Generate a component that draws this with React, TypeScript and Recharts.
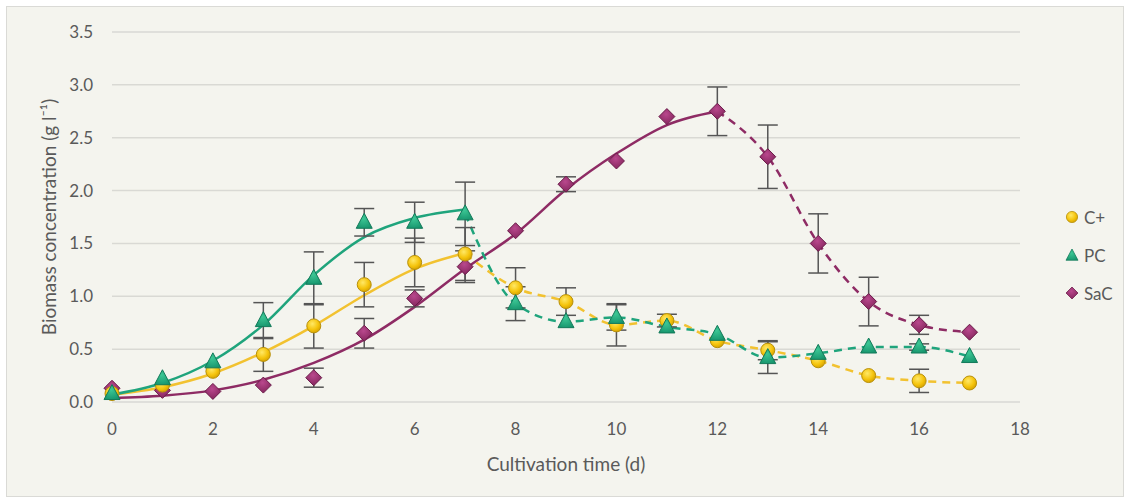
import { ComposedChart, Line, XAxis, YAxis, CartesianGrid, ErrorBar } from 'recharts'

const days = [0, 1, 2, 3, 4, 5, 6, 7, 8, 9, 10, 11, 12, 13, 14, 15, 16, 17]

const cPlus = [0.08, 0.16, 0.29, 0.45, 0.72, 1.11, 1.32, 1.40, 1.08, 0.95, 0.73, 0.77, 0.58, 0.49, 0.39, 0.25, 0.20, 0.18]
const pc = [0.08, 0.22, 0.38, 0.77, 1.17, 1.70, 1.70, 1.78, 0.93, 0.76, 0.80, 0.71, 0.64, 0.42, 0.46, 0.52, 0.52, 0.43]
const sac = [0.13, 0.11, 0.10, 0.16, 0.23, 0.65, 0.98, 1.28, 1.62, 2.06, 2.28, 2.70, 2.75, 2.32, 1.50, 0.95, 0.73, 0.66]

const cPlusErr = [null, null, null, 0.16, 0.21, 0.21, 0.23, 0.25, 0.19, 0.13, 0.2, 0.06, null, 0.09, null, null, 0.11, null]
const pcErr = [null, null, null, 0.17, 0.25, 0.13, 0.19, 0.3, 0.16, null, 0.12, null, null, 0.15, null, null, 0.03, null]
const sacErr = [null, null, null, null, 0.09, 0.14, 0.08, 0.15, null, 0.07, null, null, 0.23, 0.3, 0.28, 0.23, 0.09, null]

// fitted growth curves
const cPlusFit = [0.07, 0.14, 0.27, 0.47, 0.72, 1.01, 1.26, 1.41]
const pcFit = [0.07, 0.18, 0.39, 0.73, 1.20, 1.56, 1.74, 1.82]
const sacFit = [0.04, 0.06, 0.11, 0.21, 0.37, 0.59, 0.90, 1.26, 1.59, 2.01, 2.35, 2.62, 2.75]

// dashed part starts where the fit ends
const cPlusDashFrom = 7
const pcDashFrom = 7
const sacDashFrom = 12

const xTicks = [0, 2, 4, 6, 8, 10, 12, 14, 16, 18]
const yTicks = [0, 0.5, 1, 1.5, 2, 2.5, 3, 3.5]

const GOLD = '#f2c230'
const GREEN = '#1fa47c'
const PURPLE = '#8e2b64'
const TEXT = '#5a5a5a'

const rows = days.map((d, i) => ({
  day: d,
  cp: cPlus[i],
  pc: pc[i],
  sac: sac[i],
  cpErr: cPlusErr[i],
  pcErr: pcErr[i],
  sacErr: sacErr[i],
  cpFit: i < cPlusFit.length ? cPlusFit[i] : null,
  pcFit: i < pcFit.length ? pcFit[i] : null,
  sacFit: i < sacFit.length ? sacFit[i] : null,
  cpDash: d >= cPlusDashFrom ? cPlus[i] : null,
  pcDash: d >= pcDashFrom ? pc[i] : null,
  sacDash: d >= sacDashFrom ? sac[i] : null,
}))

const legendItems = [
  { name: 'C+', kind: 'circle' },
  { name: 'PC', kind: 'triangle' },
  { name: 'SaC', kind: 'diamond' },
]

function Marker({ kind, cx, cy }: { kind: string; cx: number; cy: number }) {
  if (kind === 'circle') {
    return <circle cx={cx} cy={cy} r={7} fill="url(#gGold)" stroke="#b8900a" strokeWidth={1} />
  }
  if (kind === 'triangle') {
    return (
      <polygon
        points={`${cx},${cy - 9} ${cx - 8},${cy + 6} ${cx + 8},${cy + 6}`}
        fill="url(#gGreen)" stroke="#137a5a" strokeWidth={1}
      />
    )
  }
  return (
    <polygon
      points={`${cx},${cy - 8} ${cx + 8},${cy} ${cx},${cy + 8} ${cx - 8},${cy}`}
      fill="url(#gPurple)" stroke="#6a1a48" strokeWidth={1}
    />
  )
}

const dotFor = (kind: string) => (p: any) => {
  if (p.value == null || p.cx == null) return <g key={p.index} />
  return <Marker key={p.index} kind={kind} cx={p.cx} cy={p.cy} />
}

function LegendIcon({ kind }: { kind: string }) {
  const s = kind === 'circle' ? 0.8 : 0.75
  return (
    <svg width={18} height={18} style={{ display: 'block' }}>
      <g transform={`translate(9,9) scale(${s}) translate(-9,-9)`}>
        <Marker kind={kind} cx={9} cy={kind === 'triangle' ? 10 : 9} />
      </g>
    </svg>
  )
}

export default function App() {
  return (
    <div
      style={{
        position: 'absolute', left: 6, top: 6, width: 1116, height: 489,
        background: '#f4f4ee', border: '1px solid #dadad6', fontFamily: 'Lato, sans-serif',
      }}
    >
      <ComposedChart width={1116} height={489} data={rows} margin={{ top: 25, right: 103, bottom: 24, left: 0 }}>
        <defs>
          <radialGradient id="gGold" cx="40%" cy="35%" r="70%">
            <stop offset="0%" stopColor="#ffe866" />
            <stop offset="60%" stopColor="#f5c40c" />
            <stop offset="100%" stopColor="#d29f00" />
          </radialGradient>
          <radialGradient id="gGreen" cx="45%" cy="35%" r="75%">
            <stop offset="0%" stopColor="#3cc795" />
            <stop offset="100%" stopColor="#14916a" />
          </radialGradient>
          <radialGradient id="gPurple" cx="45%" cy="35%" r="75%">
            <stop offset="0%" stopColor="#b9488d" />
            <stop offset="100%" stopColor="#7e2157" />
          </radialGradient>
        </defs>
        <CartesianGrid horizontal vertical={false} stroke="#d9d9d4" strokeWidth={1.5} />
        <XAxis
          dataKey="day" type="number" domain={[0, 18]} ticks={xTicks} height={70}
          axisLine={false} tickLine={false} tickSize={0} tickMargin={21}
          tick={{ fill: TEXT, fontSize: 17 }}
          label={{
            content: (p: any) => {
              const vb = p.viewBox
              return (
                <text x={vb.x + vb.width / 2} y={456} textAnchor="middle" dominantBaseline="central" fill={TEXT} fontSize={19}>
                  Cultivation time (d)
                </text>
              )
            },
          }}
        />
        <YAxis
          type="number" domain={[0, 3.5]} ticks={yTicks} width={105}
          axisLine={false} tickLine={false} tickSize={0} tickMargin={19}
          tickFormatter={(v: number) => v.toFixed(1)}
          tick={{ fill: TEXT, fontSize: 17 }}
          label={{
            content: (p: any) => {
              const vb = p.viewBox
              const cy = vb.y + vb.height / 2
              return (
                <text x={41} y={cy} transform={`rotate(-90, 41, ${cy})`} textAnchor="middle" dominantBaseline="central" fill={TEXT} fontSize={19}>
                  Biomass concentration (g l⁻¹)
                </text>
              )
            },
          }}
        />

        <Line dataKey="cpFit" type="monotone" stroke={GOLD} strokeWidth={2.5} dot={false} activeDot={false} isAnimationActive={false} />
        <Line dataKey="pcFit" type="monotone" stroke={GREEN} strokeWidth={2.5} dot={false} activeDot={false} isAnimationActive={false} />
        <Line dataKey="sacFit" type="monotone" stroke={PURPLE} strokeWidth={2.5} dot={false} activeDot={false} isAnimationActive={false} />

        <Line dataKey="cpDash" type="monotone" stroke={GOLD} strokeWidth={2.5} strokeDasharray="8 6" dot={false} activeDot={false} isAnimationActive={false} />
        <Line dataKey="pcDash" type="monotone" stroke={GREEN} strokeWidth={2.5} strokeDasharray="8 6" dot={false} activeDot={false} isAnimationActive={false} />
        <Line dataKey="sacDash" type="monotone" stroke={PURPLE} strokeWidth={2.5} strokeDasharray="8 6" dot={false} activeDot={false} isAnimationActive={false} />

        <Line dataKey="sac" stroke="none" dot={dotFor('diamond')} activeDot={false} isAnimationActive={false}>
          <ErrorBar dataKey="sacErr" width={10} stroke="#555" strokeWidth={1.5} direction="y" />
        </Line>
        <Line dataKey="cp" stroke="none" dot={dotFor('circle')} activeDot={false} isAnimationActive={false}>
          <ErrorBar dataKey="cpErr" width={10} stroke="#555" strokeWidth={1.5} direction="y" />
        </Line>
        <Line dataKey="pc" stroke="none" dot={dotFor('triangle')} activeDot={false} isAnimationActive={false}>
          <ErrorBar dataKey="pcErr" width={10} stroke="#555" strokeWidth={1.5} direction="y" />
        </Line>
      </ComposedChart>

      <div style={{ position: 'absolute', left: 1056, top: 199 }}>
        {legendItems.map((it) => (
          <div key={it.name} style={{ display: 'flex', alignItems: 'center', height: 22, marginBottom: 16, color: TEXT, fontSize: 17 }}>
            <LegendIcon kind={it.kind} />
            <span style={{ marginLeft: 3 }}>{it.name}</span>
          </div>
        ))}
      </div>
    </div>
  )
}
